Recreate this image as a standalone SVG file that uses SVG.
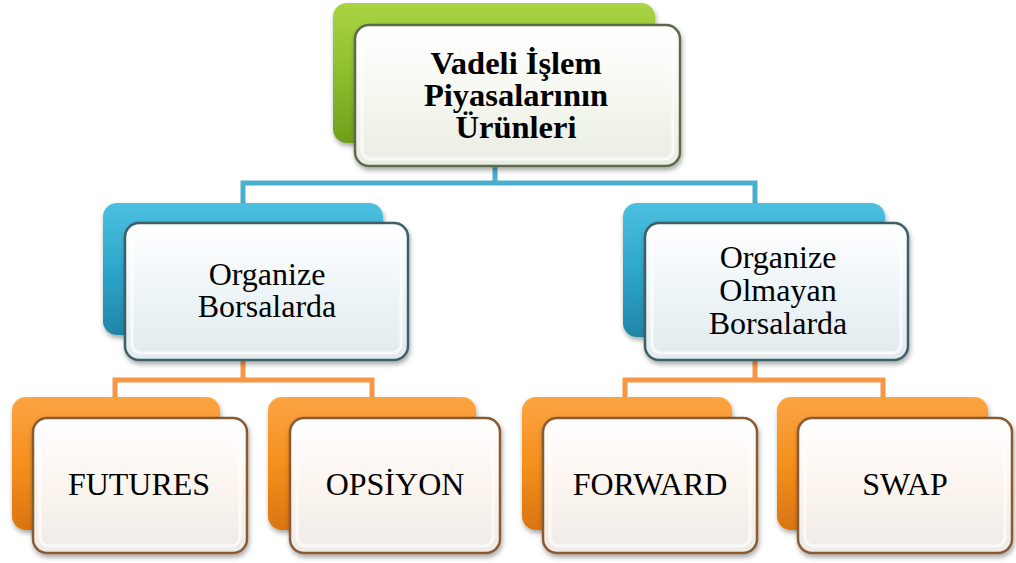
<svg xmlns="http://www.w3.org/2000/svg" width="1016" height="563" viewBox="0 0 1016 563">
<defs>
<linearGradient id="gGreen" x1="0" y1="0" x2="0" y2="1"><stop offset="0" stop-color="#a9d443"/><stop offset="0.5" stop-color="#8dbf2c"/><stop offset="1" stop-color="#6f9e1c"/></linearGradient>
<linearGradient id="gBlue" x1="0" y1="0" x2="0" y2="1"><stop offset="0" stop-color="#4cc0e0"/><stop offset="0.5" stop-color="#2ea6cc"/><stop offset="1" stop-color="#1f86a8"/></linearGradient>
<linearGradient id="gOrange" x1="0" y1="0" x2="0" y2="1"><stop offset="0" stop-color="#fba443"/><stop offset="0.5" stop-color="#f5901e"/><stop offset="1" stop-color="#d97510"/></linearGradient>
<linearGradient id="fGreen" x1="0" y1="0" x2="0" y2="1"><stop offset="0" stop-color="#ffffff"/><stop offset="0.5" stop-color="#f6f8f0"/><stop offset="1" stop-color="#e9ece2"/></linearGradient>
<linearGradient id="fBlue" x1="0" y1="0" x2="0" y2="1"><stop offset="0" stop-color="#ffffff"/><stop offset="0.5" stop-color="#eef5f8"/><stop offset="1" stop-color="#e2eaee"/></linearGradient>
<linearGradient id="fOrange" x1="0" y1="0" x2="0" y2="1"><stop offset="0" stop-color="#ffffff"/><stop offset="0.5" stop-color="#fcf5ef"/><stop offset="1" stop-color="#eeeae6"/></linearGradient>
<filter id="sh" x="-10%" y="-10%" width="125%" height="130%"><feDropShadow dx="1" dy="3" stdDeviation="2.5" flood-color="#000" flood-opacity="0.35"/></filter>
</defs>
<style>
.conB{fill:none;stroke:#4aaecf;stroke-width:5}
.conO{fill:none;stroke:#f79646;stroke-width:5}
.back{filter:url(#sh)}
.front{filter:url(#sh);stroke-width:2.5}
.inner{fill:none;stroke:#ffffff;stroke-width:3;opacity:0.7}
text{font-family:'Liberation Serif','Times New Roman',serif;fill:#000;text-anchor:middle}
.tb{font-size:32.5px;font-weight:bold}
.t{font-size:32px}
</style>
<g id="connectors">
<path class="conB" d="M495 150 V183 M243 203 V183 H755 V203"/>
<path class="conO" d="M243 340 V380 M115 397 V380 H372 V397"/>
<path class="conO" d="M755 340 V380 M625 397 V380 H883 V397"/>
</g>
<g id="node-root">
<rect class="back" x="333" y="3" width="322" height="140" rx="14" fill="url(#gGreen)"/>
<rect class="front" x="355" y="25" width="325" height="141" rx="14" fill="url(#fGreen)" stroke="#5d6b4a"/>
<rect class="inner" x="362" y="32" width="311" height="127" rx="9"/>
<text class="tb" x="516" y="74">Vadeli İşlem</text>
<text class="tb" x="516" y="106">Piyasalarının</text>
<text class="tb" x="516" y="138">Ürünleri</text>
</g>
<g id="node-organize">
<rect class="back" x="103" y="203" width="280" height="132" rx="14" fill="url(#gBlue)"/>
<rect class="front" x="125" y="223" width="283" height="137" rx="14" fill="url(#fBlue)" stroke="#3c5f68"/>
<rect class="inner" x="132" y="230" width="269" height="123" rx="9"/>
<text class="t" x="267" y="285">Organize</text>
<text class="t" x="267" y="317">Borsalarda</text>
</g>
<g id="node-otc">
<rect class="back" x="623" y="203" width="262" height="134" rx="14" fill="url(#gBlue)"/>
<rect class="front" x="645" y="223" width="263" height="137" rx="14" fill="url(#fBlue)" stroke="#3c5f68"/>
<rect class="inner" x="652" y="230" width="249" height="123" rx="9"/>
<text class="t" x="778" y="268">Organize</text>
<text class="t" x="778" y="301">Olmayan</text>
<text class="t" x="778" y="334">Borsalarda</text>
</g>
<g id="node-futures">
<rect class="back" x="12" y="397" width="208" height="133" rx="14" fill="url(#gOrange)"/>
<rect class="front" x="33" y="418" width="214" height="135" rx="14" fill="url(#fOrange)" stroke="#8a5a32"/>
<rect class="inner" x="40" y="425" width="200" height="121" rx="9"/>
<text class="t" x="139" y="495">FUTURES</text>
</g>
<g id="node-opsiyon">
<rect class="back" x="268" y="397" width="208" height="133" rx="14" fill="url(#gOrange)"/>
<rect class="front" x="290" y="418" width="210" height="135" rx="14" fill="url(#fOrange)" stroke="#8a5a32"/>
<rect class="inner" x="297" y="425" width="196" height="121" rx="9"/>
<text class="t" x="395" y="495">OPSİYON</text>
</g>
<g id="node-forward">
<rect class="back" x="522" y="397" width="210" height="133" rx="14" fill="url(#gOrange)"/>
<rect class="front" x="543" y="418" width="214" height="135" rx="14" fill="url(#fOrange)" stroke="#8a5a32"/>
<rect class="inner" x="550" y="425" width="200" height="121" rx="9"/>
<text class="t" x="650" y="495">FORWARD</text>
</g>
<g id="node-swap">
<rect class="back" x="777" y="397" width="211" height="133" rx="14" fill="url(#gOrange)"/>
<rect class="front" x="798" y="418" width="214" height="135" rx="14" fill="url(#fOrange)" stroke="#8a5a32"/>
<rect class="inner" x="805" y="425" width="200" height="121" rx="9"/>
<text class="t" x="905" y="495">SWAP</text>
</g>
</svg>
